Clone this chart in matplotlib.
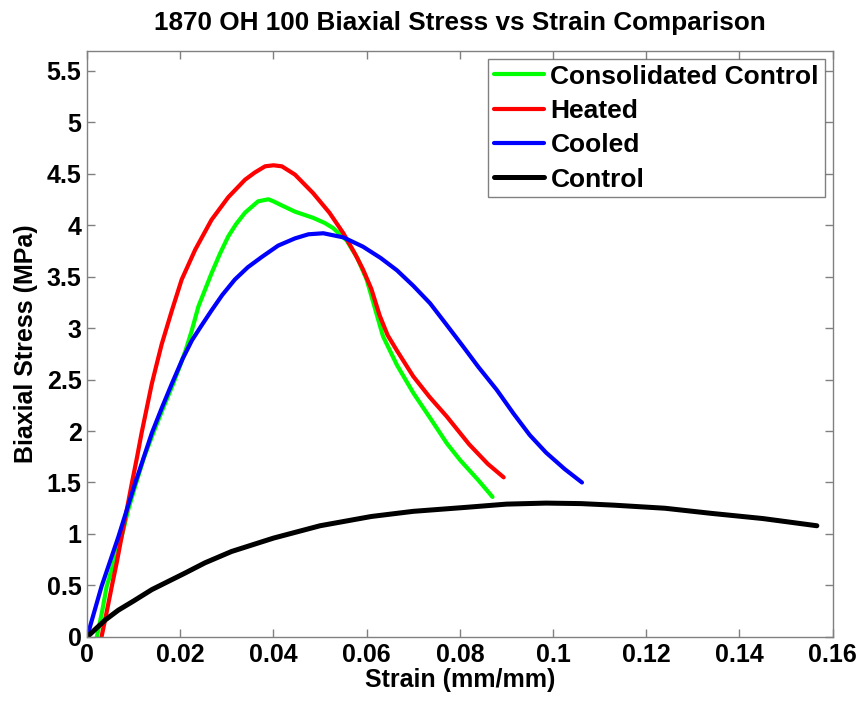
import matplotlib
matplotlib.use("Agg")
import matplotlib.pyplot as plt

plt.rcParams["font.family"] = ["Liberation Sans", "DejaVu Sans"]
plt.rcParams["font.weight"] = "bold"

# Consolidated control specimen
cons_strain = [0.0021, 0.0032, 0.0042, 0.0058, 0.0074, 0.0088, 0.0105, 0.0122, 0.0142, 0.0163,
               0.0185, 0.0200, 0.0212, 0.0225, 0.0239, 0.0267, 0.0285, 0.0303, 0.0320, 0.0339,
               0.0367, 0.0389, 0.0400, 0.0418, 0.0446, 0.0485, 0.0510, 0.0528, 0.0557, 0.0580,
               0.0600, 0.0614, 0.0635, 0.0665, 0.0700, 0.0740, 0.0772, 0.0800, 0.0840, 0.0870]
cons_stress = [0.00, 0.24, 0.49, 0.73, 0.97, 1.23, 1.49, 1.74, 1.98, 2.22,
               2.46, 2.64, 2.79, 2.98, 3.21, 3.53, 3.72, 3.89, 4.01, 4.12,
               4.23, 4.25, 4.23, 4.19, 4.13, 4.07, 4.02, 3.97, 3.85, 3.68,
               3.47, 3.25, 2.92, 2.64, 2.37, 2.10, 1.88, 1.72, 1.52, 1.36]

# Heated specimen
heat_strain = [0.0031, 0.0042, 0.0053, 0.0064, 0.0074, 0.0085, 0.0096, 0.0107, 0.0117, 0.0128,
               0.0139, 0.0150, 0.0160, 0.0182, 0.0203, 0.0232, 0.0267, 0.0303, 0.0339, 0.0360,
               0.0382, 0.0400, 0.0418, 0.0446, 0.0485, 0.0520, 0.0550, 0.0575, 0.0592, 0.0610,
               0.0628, 0.0645, 0.0665, 0.0700, 0.0735, 0.0772, 0.0820, 0.0860, 0.0894]
heat_stress = [0.00, 0.24, 0.49, 0.73, 0.97, 1.23, 1.49, 1.74, 1.98, 2.22,
               2.46, 2.66, 2.84, 3.17, 3.47, 3.76, 4.05, 4.27, 4.44, 4.51,
               4.57, 4.58, 4.57, 4.49, 4.31, 4.12, 3.92, 3.72, 3.57, 3.38,
               3.12, 2.93, 2.78, 2.53, 2.33, 2.14, 1.87, 1.68, 1.55]

# Cooled specimen
cool_strain = [0.0000, 0.0031, 0.0067, 0.0103, 0.0139, 0.0160, 0.0182, 0.0205, 0.0225, 0.0245,
               0.0267, 0.0290, 0.0317, 0.0345, 0.0375, 0.0410, 0.0446, 0.0475, 0.0507, 0.0550,
               0.0592, 0.0630, 0.0665, 0.0700, 0.0736, 0.0770, 0.0807, 0.0840, 0.0879, 0.0915,
               0.0950, 0.0985, 0.1025, 0.1062]
cool_stress = [0.00, 0.49, 0.97, 1.49, 1.98, 2.22, 2.46, 2.70, 2.88, 3.02,
               3.17, 3.32, 3.47, 3.59, 3.69, 3.80, 3.87, 3.91, 3.92, 3.88,
               3.79, 3.68, 3.56, 3.41, 3.24, 3.04, 2.82, 2.62, 2.40, 2.17,
               1.96, 1.79, 1.63, 1.50]

# Control specimen
ctrl_strain = [0.0000, 0.0039, 0.0067, 0.0100, 0.0139, 0.0210, 0.0253, 0.0310, 0.0400, 0.0500,
               0.0610, 0.0700, 0.0817, 0.0900, 0.0985, 0.1060, 0.1130, 0.1240, 0.1340, 0.1450,
               0.1566]
ctrl_stress = [0.00, 0.165, 0.26, 0.35, 0.46, 0.62, 0.72, 0.83, 0.96, 1.08,
               1.17, 1.22, 1.26, 1.29, 1.30, 1.295, 1.28, 1.25, 1.20, 1.15,
               1.08]

series_labels = ["Consolidated Control", "Heated", "Cooled", "Control"]
series_colors = ["#00ff00", "#ff0000", "#0000ff", "#000000"]

x_ticks = [0, 0.02, 0.04, 0.06, 0.08, 0.1, 0.12, 0.14, 0.16]
x_tick_labels = ["0", "0.02", "0.04", "0.06", "0.08", "0.1", "0.12", "0.14", "0.16"]
y_ticks = [0, 0.5, 1, 1.5, 2, 2.5, 3, 3.5, 4, 4.5, 5, 5.5]
y_tick_labels = ["0", "0.5", "1", "1.5", "2", "2.5", "3", "3.5", "4", "4.5", "5", "5.5"]

fig = plt.figure(figsize=(8.62, 7.04), dpi=100)
ax = fig.add_axes([0.101, 0.0952, 0.865, 0.8324])

data = [(cons_strain, cons_stress), (heat_strain, heat_stress),
        (cool_strain, cool_stress), (ctrl_strain, ctrl_stress)]
widths = [3.0, 3.0, 3.0, 3.6]
for (xs, ys), lab, col, lw in zip(data, series_labels, series_colors, widths):
    ax.plot(xs, ys, color=col, lw=lw, label=lab,
            solid_capstyle="round", solid_joinstyle="round")

ax.set_xlim(0, 0.16)
ax.set_ylim(0, 5.69)
ax.set_xticks(x_ticks)
ax.set_xticklabels(x_tick_labels)
ax.set_yticks(y_ticks)
ax.set_yticklabels(y_tick_labels)

spine_col = "#808080"
for s in ax.spines.values():
    s.set_color(spine_col)
    s.set_linewidth(1.0)
ax.tick_params(direction="in", length=5.5, width=1.0, color=spine_col,
               top=True, right=True, labelsize=18, pad=4)
for t in ax.get_xticklabels() + ax.get_yticklabels():
    t.set_fontweight("bold")

ax.set_title("1870 OH 100 Biaxial Stress vs Strain Comparison",
             fontsize=18.8, fontweight="bold", pad=15)
ax.set_xlabel("Strain (mm/mm)", fontsize=18, fontweight="bold", labelpad=1)
ax.set_ylabel("Biaxial Stress (MPa)", fontsize=18, fontweight="bold", labelpad=6)

leg = ax.legend(loc="upper right", fontsize=19, frameon=True, fancybox=False,
                borderaxespad=0.3, handlelength=1.9, handletextpad=0.25,
                borderpad=0.22, labelspacing=0.39)
leg.get_frame().set_edgecolor("#606060")
leg.get_frame().set_linewidth(1.0)
for t in leg.get_texts():
    t.set_fontweight("bold")

fig.savefig("out.png", dpi=100)
